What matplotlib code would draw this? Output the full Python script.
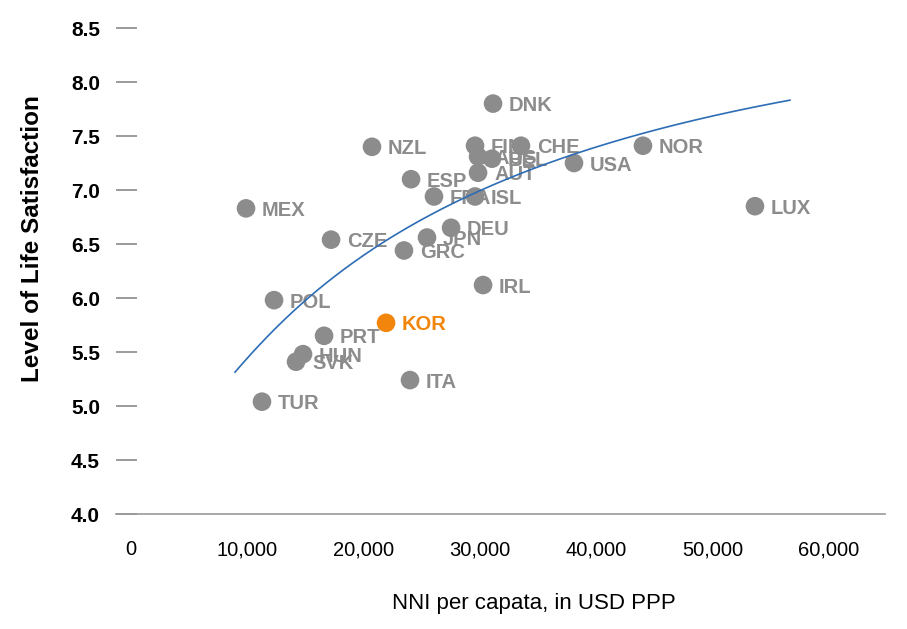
import numpy as np
import matplotlib
matplotlib.use("Agg")
import matplotlib.pyplot as plt
from matplotlib.ticker import FuncFormatter

plt.rcParams['font.family'] = ['Liberation Sans', 'DejaVu Sans']

# ---- data ----
countries = ["DNK", "NZL", "FIN", "CHE", "NOR", "USA", "AUS", "BEL", "AUT", "ESP",
             "FRA", "ISL", "MEX", "LUX", "CZE", "DEU", "JPN", "GRC", "IRL", "POL",
             "KOR", "PRT", "HUN", "SVK", "ITA", "TUR"]
nni = [31130, 20720, 29580, 33530, 44020, 38090, 29840, 31040, 29840, 24080,
       26050, 29580, 9890, 53650, 17200, 27520, 25450, 23470, 30270, 12300,
       21930, 16600, 14790, 14190, 23990, 11260]
life_sat = [7.80, 7.40, 7.41, 7.41, 7.41, 7.25, 7.31, 7.29, 7.16, 7.10,
            6.94, 6.94, 6.83, 6.85, 6.54, 6.65, 6.56, 6.44, 6.12, 5.98,
            5.77, 5.65, 5.48, 5.41, 5.24, 5.04]
highlight = "KOR"

# trend curve readings
trend_x = [8940, 12380, 13840, 16680, 20980, 25970, 36890, 41190, 45490, 49790, 56660]
trend_y = [5.306, 5.704, 5.889, 6.167, 6.426, 6.75, 7.306, 7.444, 7.583, 7.694, 7.806]

x_ticks = [0, 10000, 20000, 30000, 40000, 50000, 60000]
y_ticks = [4.0, 4.5, 5.0, 5.5, 6.0, 6.5, 7.0, 7.5, 8.0, 8.5]

GRAY = '#8c8c8c'
ORANGE = '#f2860c'
BLUE = '#2d6db5'

fig = plt.figure(figsize=(9.07, 6.29), dpi=100)
ax = fig.add_axes([116/907, 115/629, (885-116)/907, (514-28)/629])

for c, x, y in zip(countries, nni, life_sat):
    col = ORANGE if c == highlight else GRAY
    ax.scatter([x], [y], s=180, color=col, edgecolors='none', zorder=3)
    ax.annotate(c, (x, y), xytext=(11.5, -1.5), textcoords='offset points',
                ha='left', va='center', fontsize=14.5, fontweight='bold',
                color=col, zorder=2)

coef = np.polyfit(np.log(trend_x), trend_y, 3)
xs = np.linspace(min(trend_x), max(trend_x), 200)
ax.plot(xs, np.polyval(coef, np.log(xs)), color=BLUE, lw=1.2, zorder=4)

ax.set_xlim(-1290, 64830)
ax.set_ylim(4.0, 8.5)
ax.set_xticks(x_ticks)
ax.set_yticks(y_ticks)
ax.xaxis.set_major_formatter(FuncFormatter(lambda v, p: f"{int(v):,}"))
ax.yaxis.set_major_formatter(FuncFormatter(lambda v, p: f"{v:.1f}"))

for s in ['left', 'top', 'right']:
    ax.spines[s].set_visible(False)
ax.spines['bottom'].set_color('#9a9a9a')
ax.spines['bottom'].set_linewidth(1.2)

ax.tick_params(axis='y', direction='in', length=15, width=1.2, color='#8a8a8a',
               pad=11.5, labelsize=15)
for lbl in ax.get_yticklabels():
    lbl.set_fontweight('bold')
ax.tick_params(axis='x', length=0, pad=19, labelsize=14.5)

fig.text(534/907, 1 - 603/629, "NNI per capata, in USD PPP", ha='center', va='center',
         fontsize=16)
fig.text(33/907, 1 - 239/629, "Level of Life Satisfaction", rotation=90,
         ha='center', va='center', fontsize=17.5, fontweight='bold')

fig.savefig("out.png", dpi=100)
